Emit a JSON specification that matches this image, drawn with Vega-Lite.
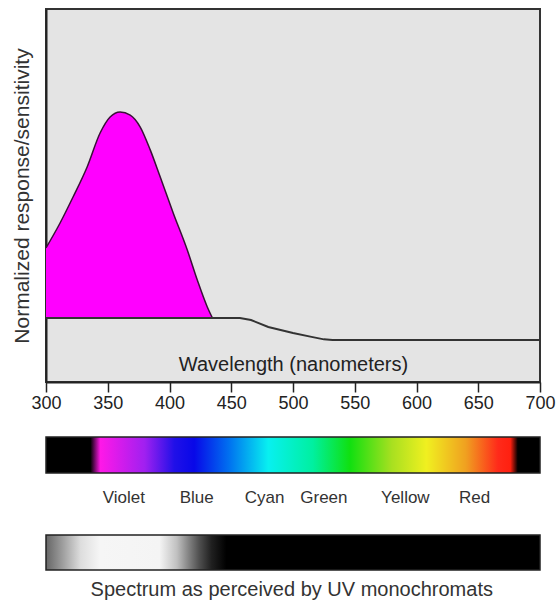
{
  "$schema": "https://vega.github.io/schema/vega-lite/v6.json",
  "background": "white",
  "padding": {"left": 10, "top": 8, "right": 5, "bottom": 0},
  "spacing": 23,
  "config": {"font": "Liberation Sans", "view": {"stroke": null}},
  "datasets": {
    "curve": [
      {"wl": 300, "r": 0.34},
      {"wl": 311.4, "r": 0.461},
      {"wl": 321.9, "r": 0.587},
      {"wl": 333.3, "r": 0.733},
      {"wl": 343.8, "r": 0.898},
      {"wl": 351.9, "r": 0.976},
      {"wl": 360, "r": 1.0},
      {"wl": 368.2, "r": 0.985},
      {"wl": 376.3, "r": 0.927},
      {"wl": 384.4, "r": 0.816},
      {"wl": 392.5, "r": 0.684},
      {"wl": 403, "r": 0.51},
      {"wl": 414.4, "r": 0.33},
      {"wl": 422.5, "r": 0.184},
      {"wl": 430.6, "r": 0.053},
      {"wl": 434.7, "r": 0}
    ],
    "baseline": [
      {"wl": 300, "b": 0},
      {"wl": 457, "b": 0},
      {"wl": 466, "b": -0.01},
      {"wl": 480, "b": -0.044},
      {"wl": 500, "b": -0.073},
      {"wl": 515, "b": -0.092},
      {"wl": 525, "b": -0.104},
      {"wl": 532, "b": -0.107},
      {"wl": 700, "b": -0.107}
    ],
    "colornames": [
      {"name": "Violet", "wl": 363},
      {"name": "Blue", "wl": 422},
      {"name": "Cyan", "wl": 477},
      {"name": "Green", "wl": 525},
      {"name": "Yellow", "wl": 591},
      {"name": "Red", "wl": 647}
    ],
    "caption": [{"wl": 499, "text": "Spectrum as perceived by UV monochromats"}],
    "spectrum": [{"from": 300, "to": 700, "top": 0, "bottom": 0.2195}],
    "uv": [{"from": 300, "to": 700, "top": 0.598, "bottom": 0.811}]
  },
  "vconcat": [
    {
      "width": 494,
      "height": 373,
      "view": {"fill": "#e4e4e4", "stroke": "#333333", "strokeWidth": 2},
      "encoding": {
        "x": {
          "field": "wl",
          "type": "quantitative",
          "scale": {"domain": [300, 700], "nice": false, "zero": false},
          "axis": {
            "values": [300, 350, 400, 450, 500, 550, 600, 650, 700],
            "grid": false,
            "domainColor": "#222222",
            "domainWidth": 2,
            "tickColor": "#222222",
            "tickSize": 10,
            "tickWidth": 1.5,
            "labelFontSize": 18,
            "labelColor": "#222222",
            "labelPadding": 2,
            "labelFlush": false,
            "labelOverlap": false,
            "title": "Wavelength (nanometers)",
            "titleFontSize": 20,
            "titleFontWeight": "normal",
            "titleColor": "#222222",
            "titleY": -18,
            "titleBaseline": "middle"
          }
        }
      },
      "layer": [
        {
          "data": {"name": "curve"},
          "mark": {"type": "area", "color": "#ff00ff", "interpolate": "monotone"},
          "encoding": {
            "y": {
              "field": "r",
              "type": "quantitative",
              "scale": {"domain": [-0.311, 1.5], "nice": false, "zero": false},
              "axis": {
                "title": "Normalized response/sensitivity",
                "labels": false,
                "ticks": false,
                "grid": false,
                "domainColor": "#222222",
                "domainWidth": 2,
                "titleFontSize": 21,
                "titleFontWeight": "normal",
                "titleColor": "#333333",
                "titlePadding": 14
              }
            },
            "y2": {"datum": 0}
          }
        },
        {
          "data": {"name": "curve"},
          "mark": {"type": "line", "color": "#3a1038", "strokeWidth": 1.5, "interpolate": "monotone"},
          "encoding": {"y": {"field": "r", "type": "quantitative"}}
        },
        {
          "data": {"name": "baseline"},
          "mark": {"type": "line", "color": "#333333", "strokeWidth": 2},
          "encoding": {"y": {"field": "b", "type": "quantitative"}}
        },
        {
          "mark": {"type": "rule", "color": "#111111", "strokeWidth": 1.5},
          "encoding": {
            "x": {"datum": 360, "type": "quantitative"},
            "y": {"datum": 1.21, "type": "quantitative"},
            "y2": {"datum": 1.085}
          }
        },
        {
          "mark": {"type": "point", "shape": "triangle-down", "filled": true, "color": "#111111", "size": 35, "opacity": 1},
          "encoding": {
            "x": {"datum": 360, "type": "quantitative"},
            "y": {"datum": 1.075, "type": "quantitative"}
          }
        },
        {
          "mark": {"type": "text", "fontSize": 18, "color": "#222222", "baseline": "middle"},
          "encoding": {
            "x": {"datum": 360, "type": "quantitative"},
            "y": {"datum": 1.29, "type": "quantitative"},
            "text": {"value": "360"}
          }
        }
      ]
    },
    {
      "width": 494,
      "height": 164,
      "layer": [
        {
          "data": {"name": "spectrum"},
          "mark": {
            "type": "rect",
            "stroke": "#222222",
            "strokeWidth": 1.5,
            "fill": {
              "gradient": "linear", "x1": 0, "y1": 0, "x2": 1, "y2": 0,
              "stops": [
                {"offset": 0, "color": "#000000"},
                {"offset": 0.09, "color": "#000000"},
                {"offset": 0.11, "color": "#ff18e8"},
                {"offset": 0.2, "color": "#a020f0"},
                {"offset": 0.26, "color": "#2010e8"},
                {"offset": 0.3, "color": "#0808e8"},
                {"offset": 0.37, "color": "#0070f0"},
                {"offset": 0.45, "color": "#08f0f0"},
                {"offset": 0.54, "color": "#00f0a0"},
                {"offset": 0.615, "color": "#10e010"},
                {"offset": 0.7, "color": "#a8e020"},
                {"offset": 0.77, "color": "#f0f020"},
                {"offset": 0.85, "color": "#f0a020"},
                {"offset": 0.915, "color": "#ff2a1a"},
                {"offset": 0.94, "color": "#ff2010"},
                {"offset": 0.955, "color": "#000000"},
                {"offset": 1, "color": "#000000"}
              ]
            }
          },
          "encoding": {
            "x": {"field": "from", "type": "quantitative", "scale": {"domain": [300, 700], "nice": false, "zero": false}, "axis": null},
            "x2": {"field": "to"},
            "y": {"field": "top", "type": "quantitative", "scale": {"domain": [0, 1], "reverse": true, "nice": false}, "axis": null},
            "y2": {"field": "bottom"}
          }
        },
        {
          "data": {"name": "uv"},
          "mark": {
            "type": "rect",
            "stroke": "#222222",
            "strokeWidth": 1.5,
            "fill": {
              "gradient": "linear", "x1": 0, "y1": 0, "x2": 1, "y2": 0,
              "stops": [
                {"offset": 0, "color": "#666666"},
                {"offset": 0.035, "color": "#a0a0a0"},
                {"offset": 0.07, "color": "#dddddd"},
                {"offset": 0.11, "color": "#f6f6f6"},
                {"offset": 0.23, "color": "#f4f4f4"},
                {"offset": 0.265, "color": "#c0c0c0"},
                {"offset": 0.29, "color": "#808080"},
                {"offset": 0.31, "color": "#505050"},
                {"offset": 0.335, "color": "#202020"},
                {"offset": 0.365, "color": "#000000"},
                {"offset": 1, "color": "#000000"}
              ]
            }
          },
          "encoding": {
            "x": {"field": "from", "type": "quantitative"},
            "x2": {"field": "to"},
            "y": {"field": "top", "type": "quantitative"},
            "y2": {"field": "bottom"}
          }
        },
        {
          "data": {"name": "colornames"},
          "mark": {"type": "text", "fontSize": 17, "color": "#333333", "baseline": "middle"},
          "encoding": {
            "x": {"field": "wl", "type": "quantitative"},
            "y": {"datum": 0.372, "type": "quantitative"},
            "text": {"field": "name"}
          }
        },
        {
          "data": {"name": "caption"},
          "mark": {"type": "text", "fontSize": 20, "color": "#333333", "baseline": "middle"},
          "encoding": {
            "x": {"field": "wl", "type": "quantitative"},
            "y": {"datum": 0.93, "type": "quantitative"},
            "text": {"field": "text"}
          }
        }
      ]
    }
  ]
}
